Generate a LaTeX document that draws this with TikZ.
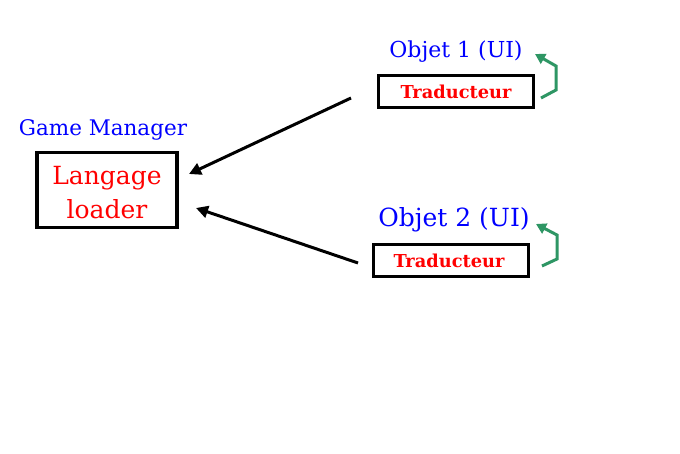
\documentclass[tikz,border=0pt]{standalone}
\usepackage{fontspec}
\setmainfont{DejaVu Serif}
\usetikzlibrary{arrows.meta}
\definecolor{tblue}{RGB}{0,0,255}
\definecolor{tred}{RGB}{255,0,0}
\definecolor{tgreen}{RGB}{46,150,100}
\tikzset{
  box/.style={draw=black, line width=3.6pt, inner sep=0pt, fill=white},
  title/.style={text=tblue, inner sep=0pt},
  redtxt/.style={text=tred, inner sep=0pt},
  link/.style={draw=black, line width=3pt, -{Triangle[length=12pt,width=12pt]}},
  loop/.style={draw=tgreen, line width=3pt, -{Triangle[length=10pt,width=11pt]}},
}
\begin{document}
\begin{tikzpicture}[x=1pt,y=-1pt]
\useasboundingbox (0,0) rectangle (680,454);
\fill[white] (0,0) rectangle (680,454);
% Game manager
\node[title, font=\fontsize{21.5}{24}\selectfont] (gm) at (103,130) {Game Manager};
\node[box, minimum width=140pt, minimum height=75pt] (ll) at (107,190) {};
\node[redtxt, font=\fontsize{25}{34}\selectfont, align=center] (llt) at (107,193) {Langage\\loader};
% Objet 1
\node[title, font=\fontsize{22}{24}\selectfont] (o1) at (456,52) {Objet 1 (UI)};
\node[box, minimum width=155pt, minimum height=32pt] (t1) at (456,91.5) {};
\node[redtxt, font=\fontsize{17.8}{20}\selectfont\bfseries] (t1t) at (456,92) {Traducteur};
% Objet 2
\node[title, font=\fontsize{25}{28}\selectfont] (o2) at (454,220) {Objet 2 (UI)};
\node[box, minimum width=155pt, minimum height=32pt] (t2) at (451,260.5) {};
\node[redtxt, font=\fontsize{17.8}{20}\selectfont\bfseries] (t2t) at (449,261) {Traducteur};
% connectors
\coordinate (s1) at (351,98);
\coordinate (e1) at (189,174);
\coordinate (s2) at (358,263);
\coordinate (e2) at (196,208);
\draw[link] (s1) -- (e1);
\draw[link] (s2) -- (e2);
% loops
\coordinate (a1) at (541,98);
\coordinate (b1) at (556,90);
\coordinate (c1) at (556,66);
\coordinate (d1) at (535,54);
\draw[loop] (a1) -- (b1) -- (c1) -- (d1);
\coordinate (a2) at (542,266);
\coordinate (b2) at (557,259);
\coordinate (c2) at (557,235);
\coordinate (d2) at (536,224);
\draw[loop] (a2) -- (b2) -- (c2) -- (d2);
\end{tikzpicture}
\end{document}
